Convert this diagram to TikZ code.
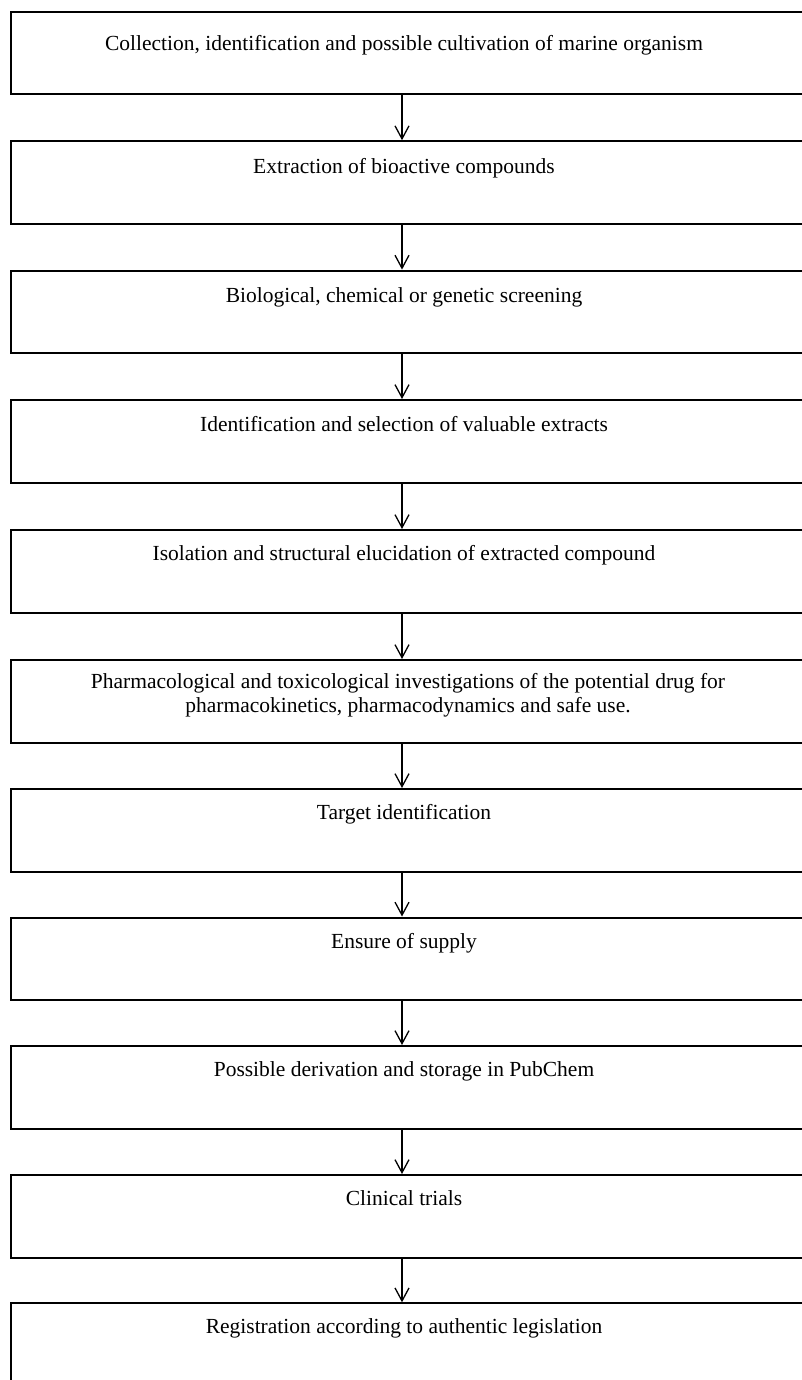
\documentclass[tikz,border=0pt]{standalone}
\usepackage{fontspec}
\setmainfont{Liberation Serif}
\usetikzlibrary{arrows.meta}
\begin{document}
\begin{tikzpicture}[x=1pt,y=-1pt,>={Straight Barb[length=13pt,width=14pt]},
    stepbox/.style={draw,line width=2pt,minimum width=812pt,minimum height=82.6pt,inner sep=0pt},
    steptext/.style={anchor=base,inner sep=0pt,font=\fontsize{21.5}{24}\selectfont},
    flow/.style={->,line width=1.3pt}]
    \useasboundingbox (0,0) rectangle (802,1380);
    \clip (0,0) rectangle (802,1380);
    % boxes
    \node[stepbox] (b1) at (416.7,53) {};
    \node[stepbox] (b2) at (416.7,182.5) {};
    \node[stepbox] (b3) at (416.7,311.9) {};
    \node[stepbox] (b4) at (416.7,441.3) {};
    \node[stepbox] (b5) at (416.7,571.3) {};
    \node[stepbox] (b6) at (416.7,701.3) {};
    \node[stepbox] (b7) at (416.7,830.3) {};
    \node[stepbox] (b8) at (416.7,958.8) {};
    \node[stepbox] (b9) at (416.7,1087.3) {};
    \node[stepbox] (b10) at (416.7,1216.3) {};
    \node[stepbox] (b11) at (416.7,1344.6) {};
    % texts
    \node[steptext] (t1) at (404,50.5) {Collection, identification and possible cultivation of marine organism};
    \node[steptext] (t2) at (404,174) {Extraction of bioactive compounds};
    \node[steptext] (t3) at (404,302) {Biological, chemical or genetic screening};
    \node[steptext] (t4) at (404,431) {Identification and selection of valuable extracts};
    \node[steptext] (t5) at (404,560) {Isolation and structural elucidation of extracted compound};
    \node[anchor=north,inner sep=0pt,align=center,font=\fontsize{21.5}{24}\selectfont] (t6) at (408,673)
        {Pharmacological and toxicological investigations of the potential drug for\\pharmacokinetics, pharmacodynamics and safe use.};
    \node[steptext] (t7) at (404,819) {Target identification};
    \node[steptext] (t8) at (404,948) {Ensure of supply};
    \node[steptext] (t9) at (404,1076) {Possible derivation and storage in PubChem};
    \node[steptext] (t10) at (404,1205) {Clinical trials};
    \node[steptext] (t11) at (404,1333) {Registration according to authentic legislation};
    % arrows
    \draw[flow] (b1.south -| 402,0) -- (b2.north -| 402,0);
    \draw[flow] (b2.south -| 402,0) -- (b3.north -| 402,0);
    \draw[flow] (b3.south -| 402,0) -- (b4.north -| 402,0);
    \draw[flow] (b4.south -| 402,0) -- (b5.north -| 402,0);
    \draw[flow] (b5.south -| 402,0) -- (b6.north -| 402,0);
    \draw[flow] (b6.south -| 402,0) -- (b7.north -| 402,0);
    \draw[flow] (b7.south -| 402,0) -- (b8.north -| 402,0);
    \draw[flow] (b8.south -| 402,0) -- (b9.north -| 402,0);
    \draw[flow] (b9.south -| 402,0) -- (b10.north -| 402,0);
    \draw[flow] (b10.south -| 402,0) -- (b11.north -| 402,0);
\end{tikzpicture}
\end{document}
